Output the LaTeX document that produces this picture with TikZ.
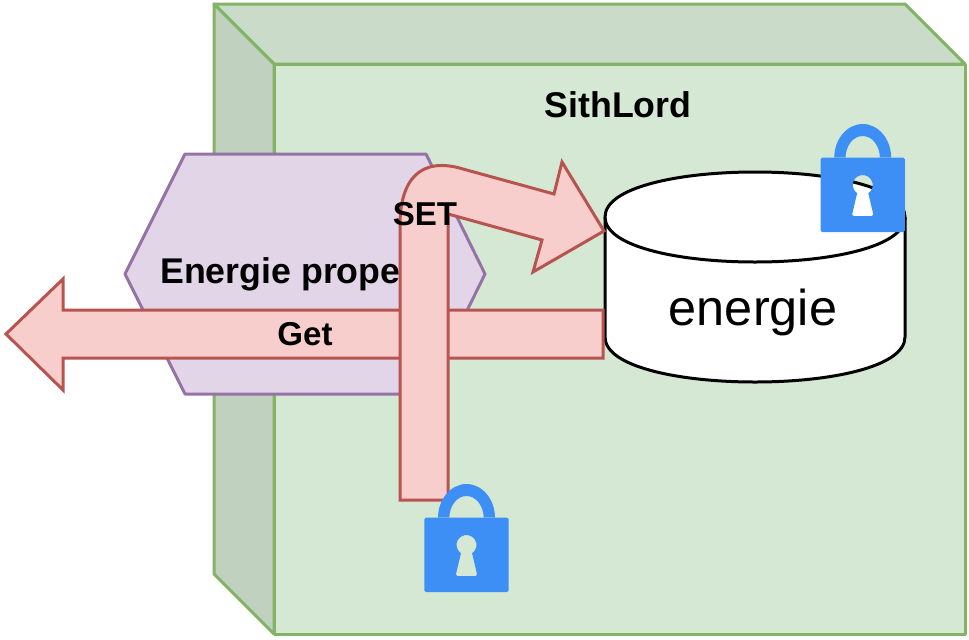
\documentclass[tikz,border=0pt]{standalone}
\usepackage{fontspec}
\setmainfont{Liberation Sans}
\usetikzlibrary{positioning}
\definecolor{cubefill}{HTML}{D5E8D4}
\definecolor{cubetop}{HTML}{CADCC9}
\definecolor{cubeleft}{HTML}{C0D1BF}
\definecolor{cubeline}{HTML}{82B366}
\definecolor{hexfill}{HTML}{E1D5E7}
\definecolor{hexline}{HTML}{9673A6}
\definecolor{arrowfill}{HTML}{F8CECC}
\definecolor{arrowline}{HTML}{B85450}
\definecolor{lockblue}{HTML}{3D8EF5}
\tikzset{
  cubeface/.style={
    draw=cubeline,
    line width=2.25pt,
    line join=round
    },
  hexa/.style={
    fill=hexfill,
    draw=hexline,
    line width=2.25pt,
    line join=round
    },
  fatarrow/.style={
    fill=arrowfill,
    draw=arrowline,
    line width=2.25pt,
    line join=miter
    },
  store/.style={
    fill=white,
    draw=black,
    line width=2.25pt
    },
  boldlabel/.style={
    inner sep=0pt,
    font=\bfseries\fontsize{26.8pt}{30pt}\selectfont
    },
  smalllabel/.style={
    inner sep=0pt,
    font=\bfseries\fontsize{24.8pt}{28pt}\selectfont
    },
  storelabel/.style={
    inner sep=0pt,
    font=\fontsize{37.8pt}{42pt}\selectfont
    },
  pics/lockicon/.style={
    code={
      \fill[lockblue,even odd rule]
        % body
        (-42.2,33.7) [rounded corners=1.2pt] -- (42.2,33.7) -- (42.2,108) -- (-42.2,108) -- cycle
        [sharp corners]
        % keyhole
        (5.6,69.3) arc [start angle=56, end angle=-236, radius=10]
        -- (-10.5,90) [rounded corners=1pt] -- (-10.5,92) -- (10.5,92) -- (10.5,90) [sharp corners] -- cycle
        % shackle
        (-28.5,34) arc [start angle=180, end angle=360, x radius=28.5, y radius=34]
        -- (17.2,34) arc [start angle=360, end angle=180, x radius=17.2, y radius=22]
        -- cycle;
    }
  }
}
\begin{document}
\begin{tikzpicture}[x=0.75pt,y=-0.75pt]
\useasboundingbox (0,0) rectangle (969,639);
% cube
\draw[cubeface,fill=cubetop] (214,4) -- (905,4) -- (965,64) -- (274,64) -- cycle;
\draw[cubeface,fill=cubeleft] (214,4) -- (274,64) -- (274,634) -- (214,574) -- cycle;
\draw[cubeface,fill=cubefill] (274,64) rectangle (965,634);
\node (sith) [boldlabel] at (618,105) {SithLord};
% property
\draw[hexa] (125,274) -- (185,154) -- (426,154) -- (485,274) -- (426,394) -- (185,394) -- cycle;
\node (prop) [boldlabel,anchor=west] at (160,274) {Energie prope};
% field
\draw[store] (605,217) -- (605,337) .. controls (605,397) and (905,397) .. (905,337)
  -- (905,217) .. controls (905,157) and (605,157) .. (605,217) -- cycle;
\draw[store] (605,217) .. controls (605,277) and (905,277) .. (905,217);
\node (field) [storelabel] at (753,312) {energie};
\pic (fieldlock) at (862.7,124) {lockicon};
% accessors
\draw[fatarrow] (6,334) -- (63,279) -- (63,310) -- (603,310) -- (603,358) -- (63,358) -- (63,390) -- cycle;
\node (get) [smalllabel] at (305,334.5) {Get};
\draw[fatarrow] (400,500) -- (400,225) .. controls (400,180) and (420,156) .. (463,169)
  -- (554,194) -- (562,162) -- (604,231) -- (533,272) -- (542,240) -- (448,214) -- (448,500) -- cycle;
\node (set) [smalllabel] at (425,214) {SET};
\pic (setlock) at (466.5,484) {lockicon};
\end{tikzpicture}
\end{document}
